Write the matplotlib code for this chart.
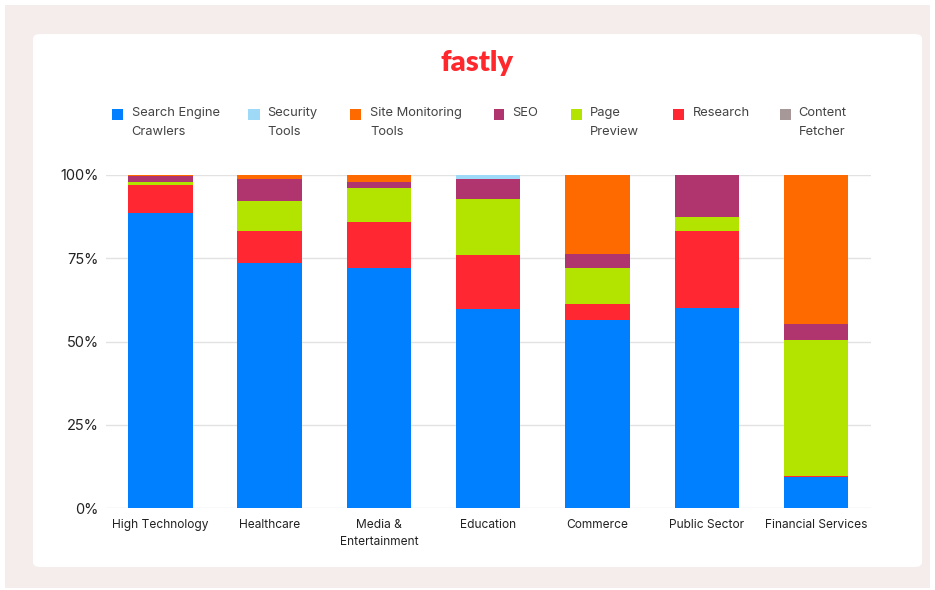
import matplotlib
matplotlib.use("Agg")
import matplotlib.pyplot as plt
from matplotlib.patches import Rectangle, FancyBboxPatch
import numpy as np

plt.rcParams['font.family'] = ['Inter', 'DejaVu Sans']

categories = ["High Technology", "Healthcare", "Media &\nEntertainment", "Education",
              "Commerce", "Public Sector", "Financial Services"]

search_engine = [88.7, 73.6, 72.2, 59.9, 56.4, 60.1, 9.4]
research      = [8.3, 9.6, 13.7, 16.1, 4.9, 23.2, 0.4]
page_preview  = [0.8, 9.1, 10.1, 16.9, 10.8, 4.1, 40.8]
seo           = [1.9, 6.5, 2.0, 5.8, 4.2, 12.6, 4.7]
site_monitor  = [0.3, 1.2, 2.0, 0.0, 23.7, 0.0, 44.7]
security      = [0.0, 0.0, 0.0, 1.3, 0.0, 0.0, 0.0]
content_fetch = [0.0, 0.0, 0.0, 0.0, 0.0, 0.0, 0.0]

yticks = [0, 25, 50, 75, 100]
ytick_labels = ["0%", "25%", "50%", "75%", "100%"]

legend_labels = ["Search Engine\nCrawlers", "Security\nTools", "Site Monitoring\nTools",
                 "SEO", "Page\nPreview", "Research", "Content\nFetcher"]

C_BLUE = "#007FFF"
C_LBLUE = "#9ED9F8"
C_ORANGE = "#FF6A00"
C_SEO = "#B0356F"
C_GREEN = "#B3E400"
C_RED = "#FF2832"
C_GREY = "#A69898"

legend_colors = [C_BLUE, C_LBLUE, C_ORANGE, C_SEO, C_GREEN, C_RED, C_GREY]

W, H = 935, 590
fig = plt.figure(figsize=(W / 100, H / 100), dpi=100)
fig.patch.set_facecolor("white")

def fx(px):
    return px / W

def fy(py):
    return 1 - py / H

# outer frame
fig.patches.append(Rectangle((fx(5), fy(588)), fx(930) - fx(5), fy(5) - fy(588),
                             transform=fig.transFigure, facecolor="#F4EDEB",
                             edgecolor="none", zorder=0))
# white card
fig.patches.append(FancyBboxPatch((fx(33), fy(567)), fx(922) - fx(33), fy(34) - fy(567),
                                  boxstyle="round,pad=0,rounding_size=0.008",
                                  transform=fig.transFigure, facecolor="white",
                                  edgecolor="none", zorder=0.5))

ax = fig.add_axes([fx(105.7), fy(508.3), fx(870.7) - fx(105.7), fy(175) - fy(508.3)])
ax.set_facecolor("none")
ax.set_zorder(2)

x = np.arange(len(categories))
width = 0.59
series = [(search_engine, C_BLUE), (research, C_RED), (page_preview, C_GREEN),
          (seo, C_SEO), (site_monitor, C_ORANGE), (security, C_LBLUE),
          (content_fetch, C_GREY)]
bottom = np.zeros(len(categories))
for vals, col in series:
    v = np.array(vals, dtype=float)
    ax.bar(x, v, width, bottom=bottom, color=col, edgecolor="none", zorder=3)
    bottom += v

ax.set_xlim(-0.5, len(categories) - 0.5)
ax.set_ylim(0, 100)
ax.set_yticks(yticks)
ax.set_yticklabels(ytick_labels, fontsize=10.5, color="#222222")
ax.set_xticks(x)
ax.set_xticklabels(categories, fontsize=8.6, color="#222222", linespacing=1.55)
ax.tick_params(axis="both", length=0)
ax.tick_params(axis="y", pad=5)
ax.tick_params(axis="x", pad=8)
for s in ax.spines.values():
    s.set_visible(False)
ax.yaxis.grid(True, color="#E2E2E2", linewidth=1, zorder=0)
ax.set_axisbelow(True)

# legend
sq_x = [112, 248.5, 350, 493.5, 571, 673, 780]
tx_x = [131.7, 267.5, 370, 512.5, 590, 692.5, 798.5]
for sx, tx, lab, col in zip(sq_x, tx_x, legend_labels, legend_colors):
    fig.patches.append(Rectangle((fx(sx), fy(120)), fx(11), 11 / H,
                                 transform=fig.transFigure, facecolor=col,
                                 edgecolor="none", zorder=2))
    fig.text(fx(tx), fy(107), lab, ha="left", va="top", fontsize=9.3,
             color="#444444", linespacing=1.75)

# logo
fig.text(fx(477), fy(63), "fastly", ha="center", va="center", fontsize=21,
         fontweight="heavy", color="#FF282D", family=["Lato", "DejaVu Sans"])

fig.savefig("out.png", dpi=100, facecolor=fig.get_facecolor())
